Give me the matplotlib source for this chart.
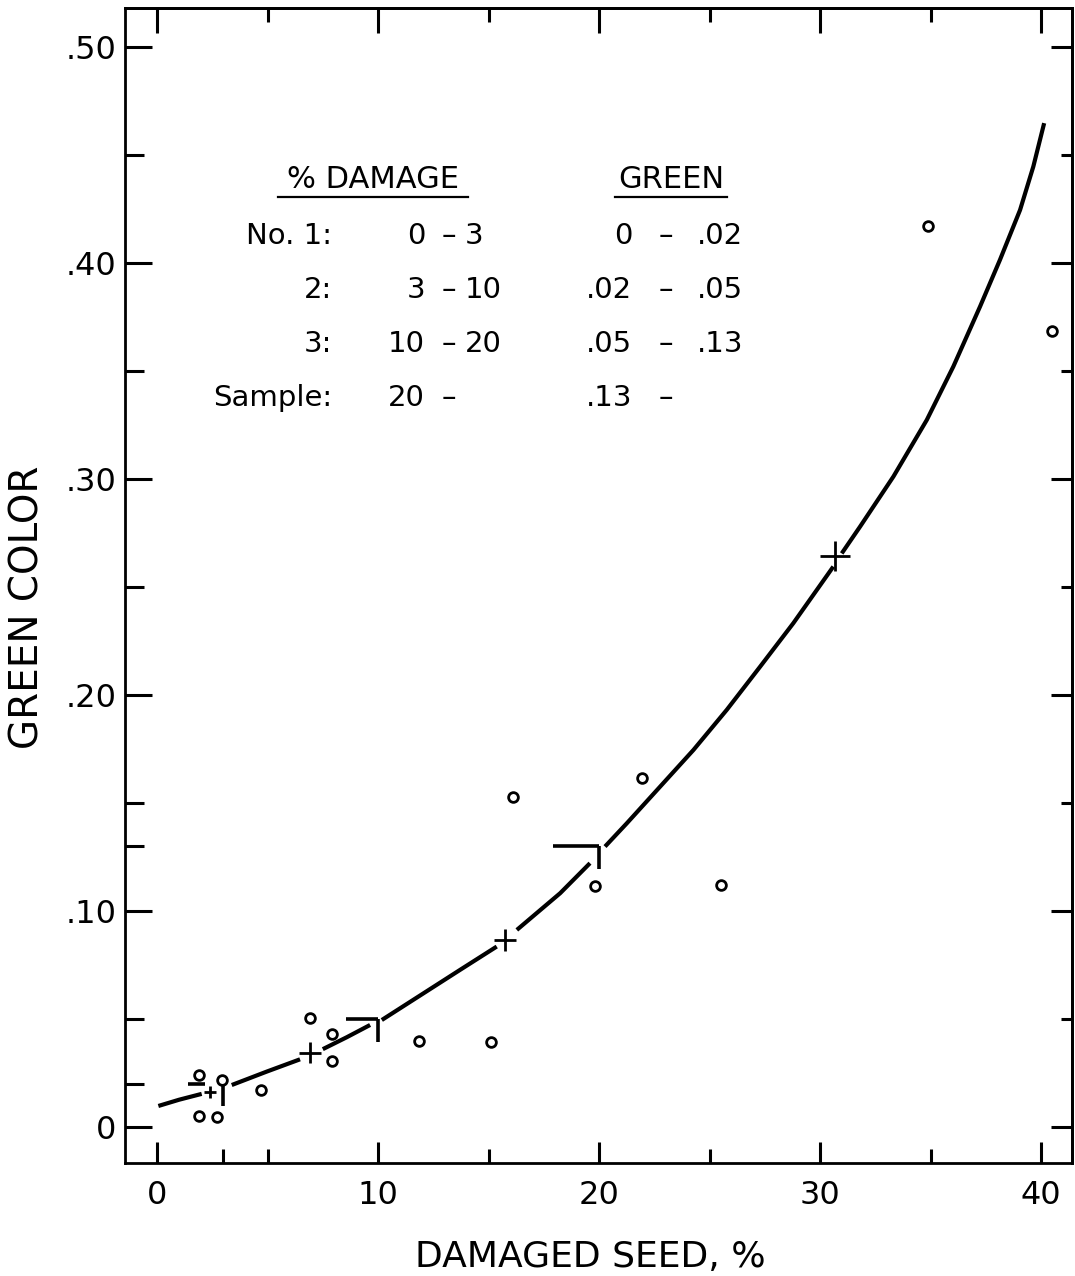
import numpy as np
import matplotlib
matplotlib.use("Agg")
import matplotlib.pyplot as plt
from matplotlib.ticker import FixedLocator, FixedFormatter, NullFormatter

nan = np.nan

# ---------------- data ----------------
# individual samples (open circles)
obs_damage = [1.91, 2.93, 1.91, 2.70, 4.69, 6.92, 7.90, 7.90, 11.87, 15.10,
              16.12, 19.82, 21.93, 25.52, 34.87, 40.51]
obs_green = [0.0241, 0.0218, 0.0051, 0.0048, 0.0171, 0.0503, 0.0431, 0.0307,
             0.0400, 0.0395, 0.1526, 0.1116, 0.1614, 0.1120, 0.4171, 0.3687]

# class averages (crosses)
class_damage = [2.4, 6.92, 15.75, 30.68]
class_green = [0.0162, 0.0343, 0.0866, 0.2644]

# fitted curve, NaN where the drawn line is interrupted
curve_damage = [0.06, 1.0, 2.02, nan,
                3.38, 4.96, 6.47, nan,
                7.50, 8.58, 9.64, nan,
                10.17, 12.20, 13.71, 15.37, nan,
                16.28, 18.24, 19.59, nan,
                20.27, 21.25, 22.76, 24.27, 25.78, 27.29, 28.79, 30.60, nan,
                30.98, 31.81, 33.32, 34.83, 36.03, 37.24, 38.14, 39.05, 39.65, 40.14]
curve_green = [0.0097, 0.0126, 0.0153, nan,
               0.0194, 0.0256, 0.0313, nan,
               0.0360, 0.0415, 0.0472, nan,
               0.0495, 0.0628, 0.0727, 0.0835, nan,
               0.0912, 0.1082, 0.1221, nan,
               0.1298, 0.1405, 0.1575, 0.1745, 0.1931, 0.2131, 0.2332, 0.2594, nan,
               0.2655, 0.2779, 0.3011, 0.3273, 0.3520, 0.3798, 0.4014, 0.4245, 0.4446, 0.4647]

# grading classes
row_labels = ["No. 1:", "2:", "3:", "Sample:"]
damage_lo = ["0", "3", "10", "20"]
damage_hi = ["3", "10", "20", ""]
green_lo = ["0", ".02", ".05", ".13"]
green_hi = [".02", ".05", ".13", ""]
damage_bounds = [3, 10, 20]
green_bounds = [0.02, 0.05, 0.13]

# axis ticks
x_major = [0, 10, 20, 30, 40]
x_labels = ["0", "10", "20", "30", "40"]
y_major = [0, 0.10, 0.20, 0.30, 0.40, 0.50]
y_labels = ["0", ".10", ".20", ".30", ".40", ".50"]

# ---------------- drawing ----------------
plt.rcParams["font.family"] = ["DejaVu Sans"]
fig = plt.figure(figsize=(10.75, 12.76), dpi=100)
ax = fig.add_axes([125 / 1075, 1 - 1163 / 1276, (1072 - 125) / 1075, (1163 - 8) / 1276])
ax.set_xlim(-1.45, 41.4)
ax.set_ylim(-0.0167, 0.518)

for s in ax.spines.values():
    s.set_linewidth(2.0)

# curve
ax.plot(curve_damage, curve_green, color="black", lw=3.0, solid_capstyle="butt",
        solid_joinstyle="round", zorder=3)

# class boundary brackets
hlen = [1.6, 1.45, 2.1]
hgap = [0.85, 0.0, 0.0]
for i, (b, g) in enumerate(zip(damage_bounds, green_bounds)):
    ax.plot([b - hlen[i], b - hgap[i]], [g, g], color="black", lw=2.6, solid_capstyle="butt", zorder=3)
    ax.plot([b, b], [g, g - 0.0105], color="black", lw=2.6, solid_capstyle="butt", zorder=3)

# crosses
cross_sizes = [80, 230, 260, 450]
ax.scatter(class_damage, class_green, marker="+", s=cross_sizes, color="black",
           linewidths=2.0, zorder=4)

# circles
ax.plot(obs_damage, obs_green, linestyle="none", marker="o", ms=7, mfc="white",
        mec="black", mew=2.0, zorder=5)

# ticks
fs_tick = 23
ax.xaxis.set_major_locator(FixedLocator(x_major))
ax.xaxis.set_major_formatter(FixedFormatter(x_labels))
ax.xaxis.set_minor_locator(FixedLocator([3, 5, 15, 25, 35]))
ax.yaxis.set_major_locator(FixedLocator(y_major))
ax.yaxis.set_major_formatter(FixedFormatter(y_labels))
ax.yaxis.set_minor_locator(FixedLocator([0.02, 0.05, 0.13, 0.15, 0.25, 0.35, 0.45]))
ax.tick_params(axis="x", which="major", direction="in", length=15, width=2.2,
               labelsize=fs_tick, pad=12)
ax.tick_params(axis="x", which="minor", direction="in", length=10, width=2.2)
ax.tick_params(axis="y", which="major", direction="in", length=19.5, width=2.2,
               labelsize=fs_tick, pad=6)
ax.tick_params(axis="y", which="minor", direction="in", length=14, width=2.2)

top = ax.secondary_xaxis("top")
top.xaxis.set_major_locator(FixedLocator(x_major))
top.xaxis.set_minor_locator(FixedLocator([5, 15, 25, 35]))
top.xaxis.set_major_formatter(NullFormatter())
top.tick_params(which="major", direction="in", length=18, width=2.2)
top.tick_params(which="minor", direction="in", length=10, width=2.2)
top.spines["top"].set_linewidth(2.0)

right = ax.secondary_yaxis("right")
right.yaxis.set_major_locator(FixedLocator(y_major))
right.yaxis.set_minor_locator(FixedLocator([0.05, 0.15, 0.25, 0.35, 0.45]))
right.yaxis.set_major_formatter(NullFormatter())
right.tick_params(which="major", direction="in", length=15, width=2.2)
right.tick_params(which="minor", direction="in", length=8, width=2.2)
right.spines["right"].set_linewidth(2.0)

# axis labels
ax.set_xlabel("DAMAGED SEED, %", fontsize=26)
ax.xaxis.set_label_coords(0.491, -0.081)
ax.xaxis.label.set_va("center")
ax.set_ylabel("GREEN COLOR", fontsize=28)
ax.yaxis.set_label_coords(-0.103, 0.481)
ax.yaxis.label.set_va("center")

# class table
fs_t = 21
def dx(px):
    return (px - 157) / 22.1
def dy(py):
    return (1127 - py) / 2160

hdr_y = dy(180)
ax.text(dx(373), hdr_y, "% DAMAGE", fontsize=22, ha="center", va="center")
ax.text(dx(671), hdr_y, "GREEN", fontsize=22, ha="center", va="center")
ul_y = dy(197)
ax.plot([dx(278), dx(468)], [ul_y, ul_y], color="black", lw=1.6)
ax.plot([dx(615), dx(727)], [ul_y, ul_y], color="black", lw=1.6)

row_y = [dy(236), dy(290), dy(344), dy(398)]
for i, y in enumerate(row_y):
    ax.text(dx(332), y, row_labels[i], fontsize=fs_t, ha="right", va="center")
    ax.text(dx(425), y, damage_lo[i], fontsize=fs_t, ha="right", va="center")
    ax.text(dx(449), y, "\u2013", fontsize=fs_t, ha="center", va="center")
    if damage_hi[i]:
        ax.text(dx(465), y, damage_hi[i], fontsize=fs_t, ha="left", va="center")
    ax.text(dx(632), y, green_lo[i], fontsize=fs_t, ha="right", va="center")
    ax.text(dx(666), y, "\u2013", fontsize=fs_t, ha="center", va="center")
    if green_hi[i]:
        ax.text(dx(697), y, green_hi[i], fontsize=fs_t, ha="left", va="center")

fig.savefig("out.png", dpi=100)
